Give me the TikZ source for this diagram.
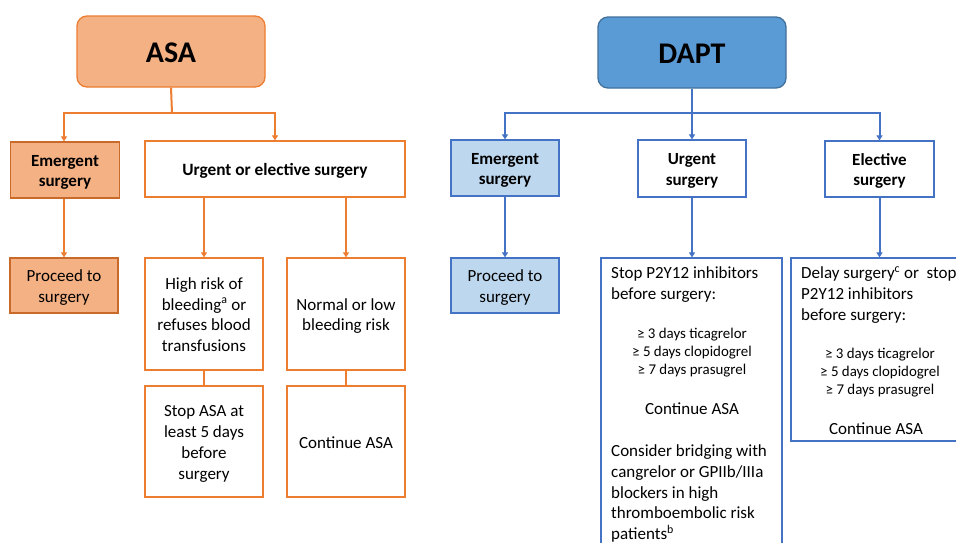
\documentclass[tikz,border=0pt]{standalone}
\usepackage{fontspec}
\setmainfont{Carlito}
\usetikzlibrary{arrows.meta}
\definecolor{oline}{HTML}{ED7D31}
\definecolor{ofill}{HTML}{F4B183}
\definecolor{odark}{HTML}{C9692A}
\definecolor{bline}{HTML}{4472C4}
\definecolor{bfill}{HTML}{BDD7EE}
\definecolor{bmain}{HTML}{5B9BD5}
\definecolor{bdark}{HTML}{41719C}
\newcommand{\fn}{\fontsize{17}{20.7}\selectfont}
\newcommand{\fsm}{\fontsize{14.9}{18}\selectfont}
\newcommand{\ts}{\rule{0pt}{1.015em}}
\newcommand{\bs}{\rule[-0.25em]{0pt}{0.25em}}
\begin{document}
\begin{tikzpicture}[x=1pt,y=-1pt,
  box/.style={draw, line width=1.3pt, inner sep=0pt, align=center, font=\fn},
  obox/.style={box, draw=oline, fill=white},
  ofbox/.style={box, draw=odark, fill=ofill},
  bbox/.style={box, draw=bline, fill=white},
  bfbox/.style={box, draw=bline, fill=bfill},
  topbox/.style={box, rounded corners=10pt, minimum width=188pt, minimum height=71pt, font=\fontsize{30}{36}\selectfont\bfseries},
  oconn/.style={draw=oline, line width=2pt},
  bconn/.style={draw=bline, line width=2pt},
  tip/.style={-{Triangle[width=6pt,length=5pt]}},
  txt/.style={inner sep=0pt, font=\fn},
]
\clip (0,0) rectangle (956,542);
\fill[white] (0,0) rectangle (956,542);

% ---------- ASA side ----------
\node[topbox, draw=oline, fill=ofill] (asa) at (171,51.5) {\rule{0pt}{21.5pt}ASA};
\node[ofbox, minimum width=109pt, minimum height=56pt, font=\fn\bfseries] (emA) at (65,170) {\ts Emergent\\surgery\bs};
\node[obox, minimum width=260pt, minimum height=56pt, font=\fontsize{17.3}{20.7}\selectfont\bfseries] (ue) at (275,169) {\ts Urgent or elective surgery\bs};
\node[ofbox, minimum width=108pt, minimum height=55pt] (prA) at (64,285.5) {\ts Proceed to\\surgery\bs};
\node[obox, minimum width=118pt, minimum height=112pt] (hr) at (204,314) {\ts High risk of\\bleeding\textsuperscript{a} or\\refuses blood\\transfusions\bs};
\node[obox, minimum width=118pt, minimum height=112pt] (nl) at (346,314) {\ts Normal or low\\bleeding risk\bs};
\node[obox, minimum width=118pt, minimum height=111pt] (sa) at (204,441.5) {\ts Stop ASA at\\least 5 days\\before\\surgery\bs};
\node[obox, minimum width=118pt, minimum height=111pt] (ca) at (346,441.5) {\ts Continue ASA\bs};

\coordinate (aj) at (172,113);
\draw[oconn] (asa.south) -- (aj);
\draw[oconn, tip] (aj) -| (prA.north |- emA.north);
\draw[oconn, tip] (aj) -| (ue.north);
\draw[oconn, tip] (prA.north |- emA.south) -- (prA.north);
\draw[oconn, tip] (ue.south -| hr.north) -- (hr.north);
\draw[oconn, tip] (ue.south -| nl.north) -- (nl.north);
\draw[oconn] (hr.south) -- (sa.north);
\draw[oconn] (nl.south) -- (ca.north);

% ---------- DAPT side ----------
\node[topbox, draw=bdark, fill=bmain] (dapt) at (692,52.5) {\rule{0pt}{21.5pt}DAPT};
\node[bfbox, minimum width=108pt, minimum height=56pt, font=\fn\bfseries] (emD) at (505,168) {\ts Emergent\\surgery\bs};
\node[bbox, minimum width=108pt, minimum height=57pt, font=\fn\bfseries] (urD) at (692,168.5) {\ts Urgent\\surgery\bs};
\node[bbox, minimum width=109pt, minimum height=56pt, font=\fn\bfseries] (elD) at (879.5,169) {\ts Elective\\surgery\bs};
\node[bfbox, minimum width=108pt, minimum height=55pt] (prD) at (505,285.5) {\ts Proceed to\\surgery\bs};
\node[bbox, minimum width=181pt, minimum height=302pt] (udet) at (691.5,409) {};
\node[bbox, minimum width=184pt, minimum height=183pt] (edet) at (883,349.5) {};

\node[txt, anchor=west, align=left] (u1) at (611,282.5) {\ts Stop P2Y12 inhibitors\\before surgery:\bs};
\node[txt, align=center, font=\fsm] (u2) at (692,351) {\ts ≥ 3 days ticagrelor\\≥ 5 days clopidogrel\\≥ 7 days prasugrel\bs};
\node[txt] (u3) at (692,408) {\ts Continue ASA\bs};
\node[txt, anchor=west, align=left] (u4) at (611,491.5) {\ts Consider bridging with\\cangrelor or GPIIb/IIIa\\blockers in high\\thromboembolic risk\\patients\textsuperscript{b}\bs};

\node[txt, anchor=west, align=left] (e1) at (801,293) {\ts Delay surgery\textsuperscript{c} or\ \ stop\\P2Y12 inhibitors\\before surgery:\bs};
\node[txt, align=center, font=\fsm] (e2) at (880,371) {\ts ≥ 3 days ticagrelor\\≥ 5 days clopidogrel\\≥ 7 days prasugrel\bs};
\node[txt] (e3) at (876,428) {\ts Continue ASA\bs};

\coordinate (dj) at (692,113);
\draw[bconn] (dapt.south) -- (dj);
\draw[bconn, tip] (dj) -| (emD.north);
\draw[bconn, tip] (dj) -- (urD.north);
\draw[bconn, tip] (dj) -| (elD.north);
\draw[bconn, tip] (emD.south) -- (prD.north);
\draw[bconn, tip] (urD.south) -- (urD.south |- udet.north);
\draw[bconn, tip] (elD.south) -- (elD.south |- edet.north);
\end{tikzpicture}
\end{document}
